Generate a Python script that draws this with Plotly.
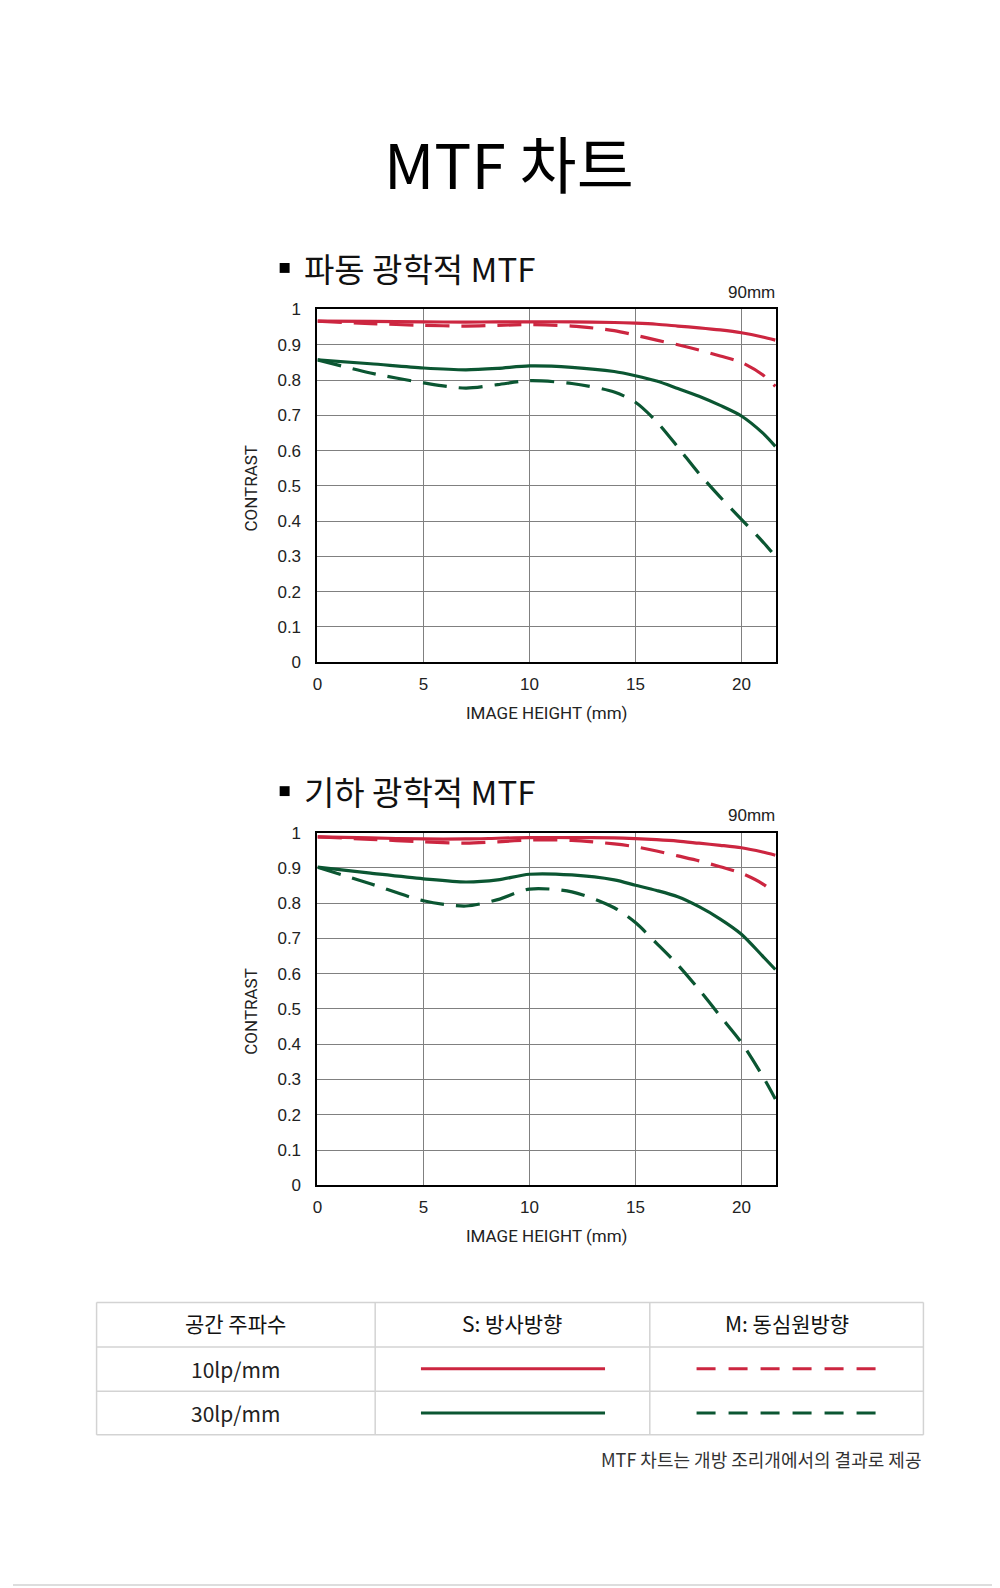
import plotly.graph_objects as go

# ---------------- data ----------------
IMAGE_HEIGHT = [0, 2.5, 5, 7, 8.5, 10, 12, 14, 15, 16, 17, 18, 19, 20, 21, 21.6]

# wave optical MTF (top)
WAVE_10_S = [0.967, 0.966, 0.965, 0.964, 0.965, 0.965, 0.965, 0.963, 0.961, 0.958, 0.953, 0.948, 0.942, 0.934, 0.922, 0.913]
WAVE_10_M = [0.967, 0.960, 0.955, 0.953, 0.955, 0.957, 0.953, 0.940, 0.927, 0.913, 0.900, 0.885, 0.868, 0.850, 0.815, 0.782]
WAVE_30_S = [0.857, 0.846, 0.834, 0.829, 0.833, 0.840, 0.836, 0.824, 0.812, 0.797, 0.776, 0.754, 0.728, 0.698, 0.650, 0.612]
WAVE_30_M = [0.857, 0.820, 0.792, 0.777, 0.787, 0.798, 0.790, 0.766, 0.737, 0.682, 0.610, 0.535, 0.468, 0.405, 0.342, 0.300]

# geometric optical MTF (bottom)
GEO_10_S = [0.988, 0.985, 0.982, 0.982, 0.984, 0.986, 0.986, 0.985, 0.983, 0.980, 0.976, 0.970, 0.964, 0.957, 0.945, 0.936]
GEO_10_M = [0.988, 0.981, 0.974, 0.970, 0.974, 0.979, 0.978, 0.968, 0.960, 0.948, 0.934, 0.920, 0.903, 0.885, 0.855, 0.827]
GEO_30_S = [0.902, 0.885, 0.869, 0.860, 0.866, 0.882, 0.880, 0.866, 0.851, 0.836, 0.818, 0.790, 0.755, 0.712, 0.650, 0.612]
GEO_30_M = [0.902, 0.855, 0.807, 0.792, 0.810, 0.840, 0.832, 0.787, 0.745, 0.686, 0.625, 0.555, 0.480, 0.405, 0.310, 0.245]

X_TICKS = [0, 5, 10, 15, 20]
Y_TICKS = [0, 0.1, 0.2, 0.3, 0.4, 0.5, 0.6, 0.7, 0.8, 0.9, 1]
Y_TICK_TEXT = ["0", "0.1", "0.2", "0.3", "0.4", "0.5", "0.6", "0.7", "0.8", "0.9", "1"]

TITLE = "MTF 차트"
SUBTITLES = ["파동 광학적 MTF", "기하 광학적 MTF"]
FOCAL = "90mm"
X_TITLE = "IMAGE HEIGHT (mm)"
Y_TITLE = "CONTRAST"
TABLE_HEADER = ["공간 주파수", "S: 방사방향", "M: 동심원방향"]
TABLE_ROWS = ["10lp/mm", "30lp/mm"]
FOOTNOTE = "MTF 차트는 개방 조리개에서의 결과로 제공"

# ---------------- style ----------------
W, H = 1000, 1588
RED = "#cc2640"
GREEN = "#0b5632"
KR = "Noto Sans CJK KR"
NUM = "Liberation Sans, Arial, sans-serif"
LAB = "Roboto, sans-serif"
CHART_DASH = "24px,12px"

def px(x):
    return x / W

def py(y):
    return 1 - y / H

fig = go.Figure()

plots = [
    dict(xa="x", ya="y", top=296, bottom=653, data=(WAVE_10_S, WAVE_10_M, WAVE_30_S, WAVE_30_M)),
    dict(xa="x2", ya="y2", top=825.5, bottom=1182.5, data=(GEO_10_S, GEO_10_M, GEO_30_S, GEO_30_M)),
]
LEFT, RIGHT = 306, 767

for p in plots:
    s10, m10, s30, m30 = p["data"]
    for vals, color, dash in [(s30, GREEN, "solid"), (m30, GREEN, CHART_DASH),
                              (s10, RED, "solid"), (m10, RED, CHART_DASH)]:
        fig.add_trace(go.Scatter(
            x=IMAGE_HEIGHT, y=vals, mode="lines", xaxis=p["xa"], yaxis=p["ya"],
            line=dict(color=color, width=3.2, dash=dash, shape="spline", smoothing=0.8),
            showlegend=False, hoverinfo="skip"))

axis_common = dict(showgrid=True, gridcolor="#808080", gridwidth=1, zeroline=False,
                   showline=True, mirror=True, linecolor="black", linewidth=2,
                   ticks="", tickfont=dict(family=NUM, size=17, color="#222"))

layout_axes = {}
for i, p in enumerate(plots):
    sfx = "" if i == 0 else str(i + 1)
    layout_axes["xaxis" + sfx] = dict(axis_common, domain=[px(LEFT), px(RIGHT)], range=[0, 21.64],
                                      tickvals=X_TICKS, anchor="y" + sfx, ticklabelstandoff=5)
    layout_axes["yaxis" + sfx] = dict(axis_common, domain=[py(p["bottom"]), py(p["top"])], range=[0, 1],
                                      tickvals=Y_TICKS, ticktext=Y_TICK_TEXT, anchor="x" + sfx,
                                      ticklabelstandoff=11)

annotations = []
shapes = []
annotations.append(dict(text=TITLE, x=px(498), y=py(147), xref="paper", yref="paper",
                        xanchor="center", yanchor="middle", showarrow=False,
                        font=dict(family=KR, size=62, color="black")))
for i, p in enumerate(plots):
    cy = p["top"] - 40
    shapes.append(dict(type="rect", xref="paper", yref="paper", x0=px(268), x1=px(278),
                       y0=py(cy + 3), y1=py(cy - 7), fillcolor="black", line=dict(width=0)))
    annotations.append(dict(text=SUBTITLES[i], x=px(290), y=py(cy - 2), xref="paper", yref="paper",
                            xanchor="left", yanchor="middle", showarrow=False,
                            font=dict(family=KR, size=33, color="#111")))
    annotations.append(dict(text=FOCAL, x=px(RIGHT + 1), y=py(p["top"] - 17), xref="paper", yref="paper",
                            xanchor="right", yanchor="middle", showarrow=False,
                            font=dict(family=NUM, size=17, color="#222")))
    annotations.append(dict(text=Y_TITLE, x=px(239), y=py((p["top"] + p["bottom"]) / 2 + 2),
                            xref="paper", yref="paper", xanchor="center", yanchor="middle",
                            textangle=-90, showarrow=False,
                            font=dict(family=LAB, size=17, color="#222")))
    annotations.append(dict(text=X_TITLE, x=px(537), y=py(p["bottom"] + 51),
                            xref="paper", yref="paper", xanchor="center", yanchor="middle",
                            showarrow=False,
                            font=dict(family=LAB, size=17, color="#222")))

# ---------------- table ----------------
T_LEFT, T_RIGHT = 84, 915
COLS = [84, 364, 640, 915]
ROWS = [1301, 1346, 1391, 1435]
GRAYLINE = "#d3d3d3"
for yv in ROWS:
    shapes.append(dict(type="line", xref="paper", yref="paper", x0=px(T_LEFT), x1=px(T_RIGHT),
                       y0=py(yv), y1=py(yv), line=dict(color=GRAYLINE, width=1.5)))
for xv in COLS:
    shapes.append(dict(type="line", xref="paper", yref="paper", x0=px(xv), x1=px(xv),
                       y0=py(ROWS[0]), y1=py(ROWS[-1]), line=dict(color=GRAYLINE, width=1.5)))

for j, txt in enumerate(TABLE_HEADER):
    annotations.append(dict(text=txt, x=px((COLS[j] + COLS[j + 1]) / 2), y=py(1322),
                            xref="paper", yref="paper", xanchor="center", yanchor="middle",
                            showarrow=False, font=dict(family=KR, size=21, color="#111")))
row_centers = [1368, 1413]
row_colors = [RED, GREEN]
for r, txt in enumerate(TABLE_ROWS):
    annotations.append(dict(text=txt, x=px(224), y=py(row_centers[r]), xref="paper", yref="paper",
                            xanchor="center", yanchor="middle", showarrow=False,
                            font=dict(family=KR, size=21, color="#222")))
    shapes.append(dict(type="line", xref="paper", yref="paper", x0=px(410), x1=px(595),
                       y0=py(row_centers[r]), y1=py(row_centers[r]),
                       line=dict(color=row_colors[r], width=3)))
    shapes.append(dict(type="line", xref="paper", yref="paper", x0=px(687), x1=px(868),
                       y0=py(row_centers[r]), y1=py(row_centers[r]),
                       line=dict(color=row_colors[r], width=3, dash="19px,13px")))

annotations.append(dict(text=FOOTNOTE, x=px(915), y=py(1459), xref="paper", yref="paper",
                        xanchor="right", yanchor="middle", showarrow=False,
                        font=dict(family=KR, size=18, color="#333")))
shapes.append(dict(type="line", xref="paper", yref="paper", x0=0, x1=1, y0=py(1587), y1=py(1587),
                   line=dict(color="#dddddd", width=2)))

fig.update_layout(width=W, height=H, margin=dict(l=0, r=0, t=0, b=0),
                  paper_bgcolor="white", plot_bgcolor="white",
                  annotations=annotations, shapes=shapes, showlegend=False, **layout_axes)

fig.write_html("out.html")
